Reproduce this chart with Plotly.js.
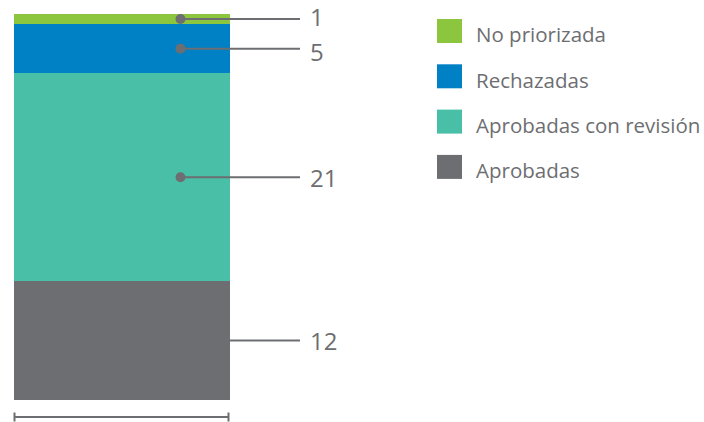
<!DOCTYPE html>
<html>
<head>
<meta charset="utf-8">
<script src="https://cdn.plot.ly/plotly-3.0.1.min.js"></script>
<style>html,body{margin:0;padding:0;background:#fff;}#chart{width:704px;height:422px;}</style>
</head>
<body>
<div id="chart"></div>
<script>
// Data (bottom to top)
var categories = ["Aprobadas", "Aprobadas con revisión", "Rechazadas", "No priorizada"];
var values = [12, 21, 5, 1];
var colors = ["#6d6e72", "#49bfa7", "#0080c5", "#8cc63f"];
var legendOrder = ["No priorizada", "Rechazadas", "Aprobadas con revisión", "Aprobadas"];

var W = 704, H = 422;
var mL = 14, mR = 0, mT = 14, mB = 22;
var plotW = W - mL - mR, plotH = H - mT - mB;
function px(x) { return (x - mL) / plotW; }
function py(y) { return (H - mB - y) / plotH; }

var total = values.reduce(function(a, b) { return a + b; }, 0);
var textColor = "#6d6e71";
var lineColor = "#6d6e71";

var traces = categories.map(function(c, i) {
  return {
    type: "bar", x: [0], y: [values[i]], name: c, width: [1],
    marker: {color: colors[i], line: {width: 0}},
    hoverinfo: "none", showlegend: false
  };
});

// small vertical nudges so the two close top labels do not collide
var labelShift = [0, 0, -2.5, 2.5];

var shapes = [], annotations = [];
var cum = 0;
values.forEach(function(v, i) {
  var mid = cum + v / 2;
  cum += v;
  shapes.push({type: "line", xref: "paper", yref: "y", x0: px(180), x1: px(300), y0: mid, y1: mid,
    line: {color: lineColor, width: 2}});
  shapes.push({type: "circle", xref: "paper", yref: "y", xsizemode: "pixel", ysizemode: "pixel",
    xanchor: px(180.5), yanchor: mid, x0: -5, x1: 5, y0: -5, y1: 5,
    fillcolor: lineColor, line: {width: 0}});
  annotations.push({xref: "paper", yref: "y", x: px(309), y: mid, xanchor: "left", yanchor: "middle",
    yshift: labelShift[i], borderpad: 0,
    text: String(v), showarrow: false, font: {size: 24, color: textColor, family: "Open Sans"}});
});

// custom legend
legendOrder.forEach(function(name, k) {
  var i = categories.indexOf(name);
  var cy = 31 + k * 45.3;
  shapes.push({type: "rect", xref: "paper", yref: "paper", x0: px(437), x1: px(462),
    y0: py(cy + 12), y1: py(cy - 12), fillcolor: colors[i], line: {width: 0}});
  annotations.push({xref: "paper", yref: "paper", x: px(474), y: py(cy + 3.5), xanchor: "left", yanchor: "middle",
    text: name, showarrow: false, font: {size: 20.5, color: textColor, family: "Open Sans"}});
});

// bottom bracket
var by = 417;
shapes.push({type: "line", xref: "paper", yref: "paper", x0: px(14), x1: px(229), y0: py(by), y1: py(by),
  line: {color: lineColor, width: 2}});
[14.5, 228.5].forEach(function(x) {
  shapes.push({type: "line", xref: "paper", yref: "paper", x0: px(x), x1: px(x), y0: py(by - 4.5), y1: py(by + 4.5),
    line: {color: lineColor, width: 2}});
});

var layout = {
  width: W, height: H,
  margin: {l: mL, r: mR, t: mT, b: mB, pad: 0},
  paper_bgcolor: "#fff", plot_bgcolor: "rgba(0,0,0,0)",
  barmode: "stack", bargap: 0,
  showlegend: false,
  xaxis: {domain: [0, (230 - mL) / plotW], range: [-0.5, 0.5], visible: false, fixedrange: true},
  yaxis: {range: [0, total], visible: false, fixedrange: true},
  shapes: shapes, annotations: annotations
};

Plotly.newPlot("chart", traces, layout, {displayModeBar: false, staticPlot: true});
</script>
</body>
</html>
